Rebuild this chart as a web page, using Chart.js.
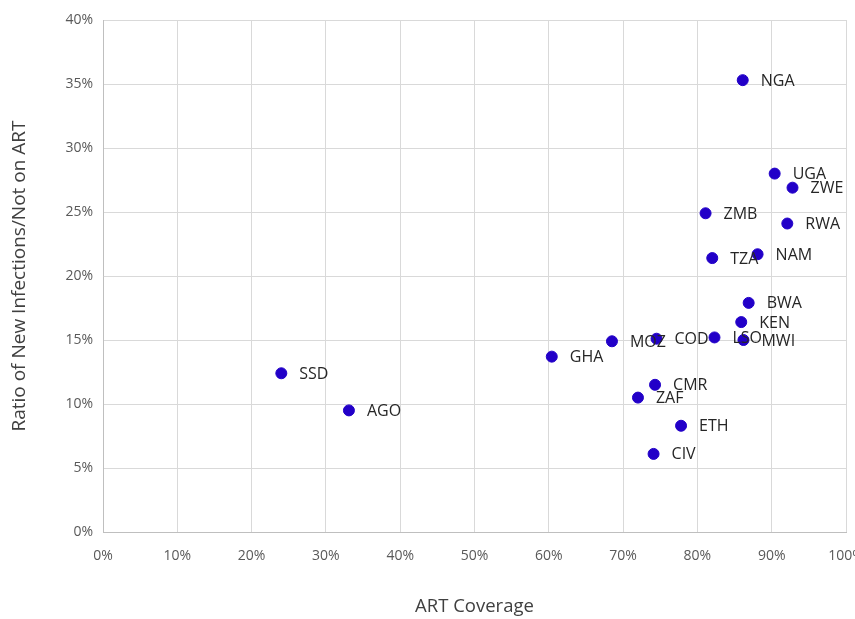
<!DOCTYPE html>
<html>
<head>
<meta charset="utf-8">
<script src="https://cdn.jsdelivr.net/npm/chart.js@4.4.1/dist/chart.umd.min.js"></script>
<style>
  html, body { margin: 0; padding: 0; background: #fff; overflow: hidden; }
  #wrap { width: 855px; height: 619px; }
</style>
</head>
<body>
<div id="wrap"><canvas id="scatter"></canvas></div>
<script>
// countries, ART coverage (x) and ratio of new infections / not on ART (y)
const countries = ['NGA', 'UGA', 'ZWE', 'ZMB', 'RWA', 'TZA', 'NAM', 'BWA', 'KEN', 'LSO', 'MWI',
    'COD', 'MOZ', 'GHA', 'CMR', 'ZAF', 'ETH', 'CIV', 'SSD', 'AGO'];
const coverage = [0.861, 0.904, 0.928, 0.811, 0.921, 0.820, 0.881, 0.869, 0.859, 0.823, 0.862,
    0.745, 0.685, 0.604, 0.743, 0.720, 0.778, 0.741, 0.240, 0.331];
const ratio = [0.353, 0.280, 0.269, 0.249, 0.241, 0.214, 0.217, 0.179, 0.164, 0.152, 0.150,
    0.151, 0.149, 0.137, 0.115, 0.105, 0.083, 0.061, 0.124, 0.095];

const xTicks = [0, 0.1, 0.2, 0.3, 0.4, 0.5, 0.6, 0.7, 0.8, 0.9, 1];
const yTicks = [0, 0.05, 0.1, 0.15, 0.2, 0.25, 0.3, 0.35, 0.4];

const points = countries.map((c, i) => ({x: coverage[i], y: ratio[i]}));

const pct = v => Math.round(v * 100) + '%';

// draws the country code to the right of each dot
const pointLabels = {
    id: 'pointLabels',
    afterDatasetsDraw(chart) {
        const ctx = chart.ctx;
        const meta = chart.getDatasetMeta(0);
        ctx.save();
        ctx.font = '16px "Open Sans"';
        ctx.fillStyle = '#262626';
        ctx.textAlign = 'left';
        ctx.textBaseline = 'middle';
        meta.data.forEach((el, i) => {
            ctx.fillText(countries[i], el.x + 18, el.y + 1);
        });
        ctx.restore();
    }
};

new Chart(document.getElementById('scatter'), {
    type: 'scatter',
    data: {
        datasets: [{
            label: 'Countries',
            data: points,
            backgroundColor: '#2200c8',
            borderColor: '#2200c8',
            pointRadius: 5.5,
            pointHoverRadius: 5.5
        }]
    },
    options: {
        responsive: true,
        maintainAspectRatio: false,
        animation: false,
        layout: {
            padding: {top: 20, right: 9, bottom: 0, left: 0}
        },
        plugins: {
            legend: {display: false},
            tooltip: {enabled: false}
        },
        scales: {
            x: {
                type: 'linear',
                min: 0,
                max: 1,
                afterBuildTicks: scale => { scale.ticks = xTicks.map(v => ({value: v})); },
                afterFit: scale => { scale.paddingRight = 0; scale.paddingLeft = 0; scale.height = 87; },
                ticks: {
                    callback: v => pct(v),
                    color: '#595959',
                    font: {family: '"Open Sans"', size: 14},
                    padding: 16,
                    maxRotation: 0
                },
                grid: {color: '#d9d9d9', lineWidth: 1, drawTicks: false},
                border: {color: '#bfbfbf'},
                title: {
                    display: true,
                    text: 'ART Coverage',
                    color: '#404040',
                    font: {family: '"Open Sans"', size: 18.5},
                    padding: {top: 0, bottom: 1}
                }
            },
            y: {
                type: 'linear',
                min: 0,
                max: 0.4,
                afterBuildTicks: scale => { scale.ticks = yTicks.map(v => ({value: v})); },
                afterFit: scale => { scale.width = 103; },
                ticks: {
                    callback: v => pct(v),
                    color: '#595959',
                    font: {family: '"Open Sans"', size: 14},
                    padding: 10
                },
                grid: {color: '#d9d9d9', lineWidth: 1, drawTicks: false},
                border: {color: '#bfbfbf'},
                title: {
                    display: true,
                    text: 'Ratio of New Infections/Not on ART',
                    color: '#404040',
                    font: {family: '"Open Sans"', size: 19},
                    padding: {top: 8, bottom: 0}
                }
            }
        }
    },
    plugins: [pointLabels]
});
</script>
</body>
</html>
